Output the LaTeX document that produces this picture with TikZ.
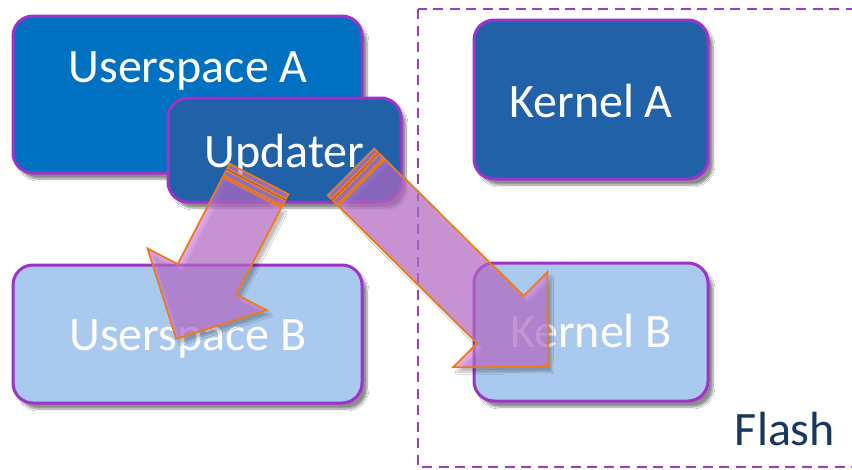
\documentclass[tikz,border=0pt]{standalone}
\usepackage{fontspec}
\setmainfont{Carlito}
\usetikzlibrary{shadows.blur}
\definecolor{uacol}{HTML}{0070C0}
\definecolor{darkcol}{HTML}{2161A8}
\definecolor{lightcol}{HTML}{A9C9EE}
\definecolor{bordercol}{HTML}{9E33CC}
\definecolor{dashcol}{HTML}{A03CC4}
\definecolor{flashcol}{HTML}{17375E}
\definecolor{arrowfill}{HTML}{CC77DD}
\definecolor{arroworange}{HTML}{EE7A1E}
\tikzset{
  boxstyle/.style={draw=bordercol, line width=3pt, rounded corners=20pt, inner sep=0pt,
    blur shadow={shadow xshift=5pt, shadow yshift=-6pt, shadow blur steps=8, shadow opacity=45}},
  labelstyle/.style={anchor=base, text=white, font=\fontsize{48}{50}\selectfont, inner sep=0pt},
  flashline/.style={draw=dashcol, line width=2.8pt, dash pattern=on 10pt off 6.5pt},
  arrowpart/.style={fill=arrowfill, fill opacity=0.62, draw=arroworange, draw opacity=1, line width=1.8pt, line join=miter},
  arrowshadow/.style={blur shadow={shadow xshift=4pt, shadow yshift=-5pt, shadow blur steps=6, shadow opacity=25}}
}
\newcommand{\blockarrow}[3]{%
  \begin{scope}[shift={(#1)}, rotate=#2]
    \path[arrowpart, arrowshadow] (15,-33) -- (#3-67,-33) -- (#3-67,-67) -- (#3,0) -- (#3-67,67) -- (#3-67,33) -- (15,33) -- cycle;
    \path[arrowpart] (0,-33) rectangle (5,33);
    \path[arrowpart] (7.5,-33) rectangle (13,33);
  \end{scope}}
\begin{document}
\begin{tikzpicture}[x=1pt,y=-1pt]
\useasboundingbox (0,0) rectangle (852,469);
\clip (0,0) rectangle (852,469);
\fill[white] (0,0) rectangle (852,469);
% boxes
\node[boxstyle, fill=uacol, minimum width=349pt, minimum height=157pt] (ua) at (187.5,94.5) {};
\node[labelstyle] (uat) at (188,82) {Userspace A};
\node[boxstyle, fill=darkcol, minimum width=233pt, minimum height=104pt] (up) at (284.5,150) {};
\node[labelstyle] (upt) at (284.5,167) {Updater};
\node[boxstyle, fill=darkcol, minimum width=234pt, minimum height=159pt] (ka) at (591,99.5) {};
\node[labelstyle] (kat) at (591,117) {Kernel A};
\node[boxstyle, fill=lightcol, minimum width=349pt, minimum height=138pt] (ub) at (187.5,334) {};
\node[labelstyle] (ubt) at (188,350) {Userspace B};
\node[boxstyle, fill=lightcol, minimum width=234pt, minimum height=138pt] (kb) at (591,332) {};
\node[labelstyle] (kbt) at (591,347) {Kernel B};
% flash region
\path[flashline] (418,9) rectangle (880,467);
\node[labelstyle, text=flashcol] (flash) at (785,445) {Flash};
% arrows
\coordinate (t1) at (259,179);
\coordinate (t2) at (351,172);
\blockarrow{t1}{-117.4}{180}
\blockarrow{t2}{-44.7}{277}
\end{tikzpicture}
\end{document}
